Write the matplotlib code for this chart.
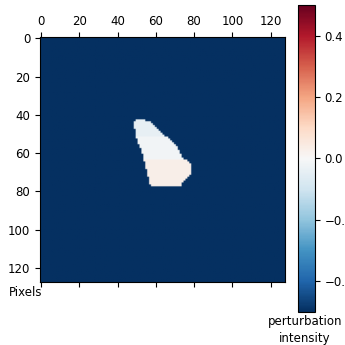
import numpy as np
import matplotlib
matplotlib.use("Agg")
import matplotlib.pyplot as plt
from matplotlib.path import Path

# image size and background perturbation
img_size = 128
background_value = -0.5

# outline of the perturbed region (column, row)
blob_cols = [49.1, 51.7, 57.0, 63.2, 71.1, 73.7, 77.9, 78.6, 75.3, 72.6, 61.2, 57.0, 55.4, 52.8, 49.7, 48.6]
blob_rows = [42.7, 42.2, 43.7, 49.4, 56.7, 62.5, 65.1, 70.3, 74.5, 77.6, 78.0, 76.8, 69.7, 59.9, 51.5, 45.3]

# values inside the region, per row band (light blue on top, light red below)
band_edges = [40, 52, 64, 80]
band_values = [-0.04, -0.015, 0.03]

cbar_ticks = [-0.4, -0.2, 0.0, 0.2, 0.4]
axis_ticks = [0, 20, 40, 60, 80, 100, 120]

# build the image
img = np.full((img_size, img_size), background_value)
cc, rr = np.meshgrid(np.arange(img_size), np.arange(img_size))
outline = Path(np.column_stack([blob_cols, blob_rows]))
inside = outline.contains_points(np.column_stack([cc.ravel(), rr.ravel()])).reshape(img.shape)
for lo, hi, v in zip(band_edges[:-1], band_edges[1:], band_values):
    band = inside & (rr >= lo) & (rr < hi)
    img[band] = v

fig = plt.figure(figsize=(3.45, 3.45), dpi=100)
ax = fig.add_axes([0.116, 0.180, 0.710, 0.713])
im = ax.imshow(img, cmap="RdBu_r", vmin=-0.5, vmax=0.5)
ax.set_xticks(axis_ticks)
ax.set_yticks(axis_ticks)
ax.tick_params(axis="x", top=True, labeltop=True, bottom=True, labelbottom=False, labelsize=8.5)
ax.tick_params(axis="y", labelsize=8.5)

cax = fig.add_axes([0.864, 0.096, 0.049, 0.89])
cb = fig.colorbar(im, cax=cax, ticks=cbar_ticks)
cb.ax.tick_params(labelsize=8.5)

fig.text(0.025, 1 - 293 / 345, "Pixels", fontsize=8.5, va="center", ha="left")
fig.text(305 / 345, 1 - 330 / 345, "perturbation\nintensity", fontsize=8.5, ha="center", va="center",
         linespacing=1.4)

fig.savefig("out.png", dpi=100)
